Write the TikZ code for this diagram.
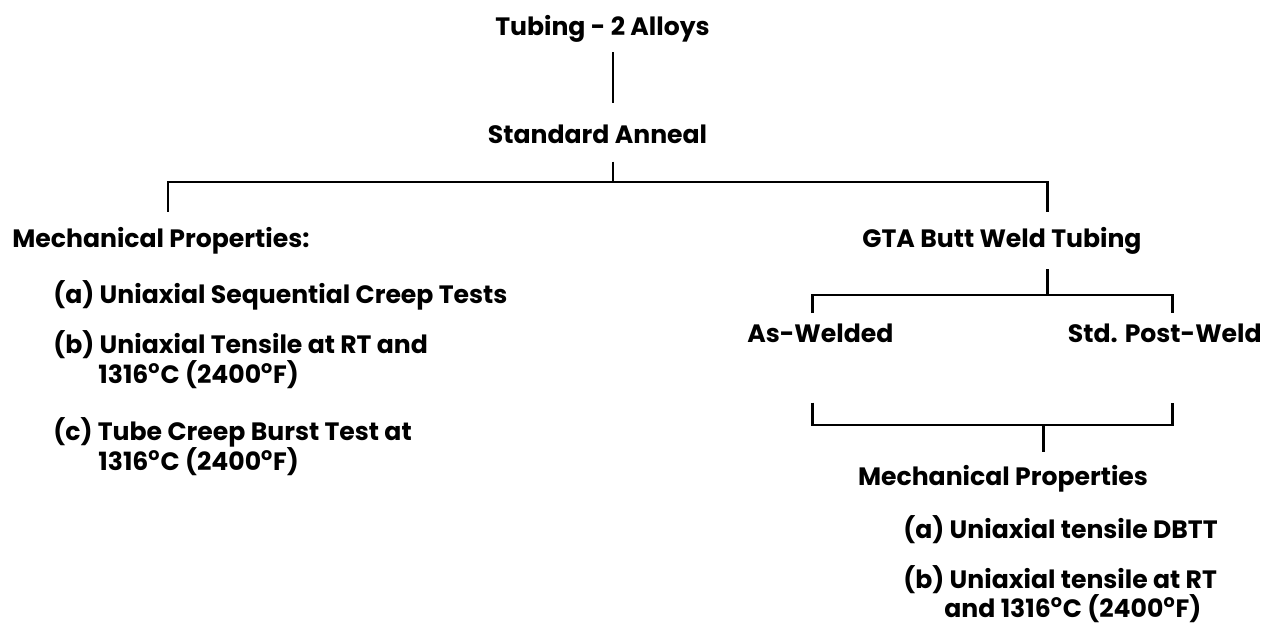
\documentclass[tikz,border=0pt]{standalone}
\usepackage{fontspec}
\setmainfont{Poppins}
\usetikzlibrary{positioning,calc}
\newcommand{\degr}{\textsuperscript{o}}

\begin{document}
\begin{tikzpicture}[
  txt/.style={font=\fontsize{14.3}{17}\selectfont\bfseries, inner sep=0pt, text=black},
  head/.style={txt, anchor=base},
  item/.style={txt, anchor=base west},
  itemr/.style={txt, anchor=base east},
  link/.style={line width=1.7pt, line join=miter, draw=black},
]
\useasboundingbox (0,0) rectangle (25.54,-12.70);

% ============ trunk ============
\node[head] (tube)   at (12.05,-0.70) {Tubing - 2 Alloys};
\node[head] (anneal) at (11.95,-2.86) {Standard Anneal};

\coordinate (spine)    at (12.26,0);
\coordinate (split)    at (12.26,-3.64);
\coordinate (leftend)  at (3.36,-3.64);
\coordinate (rightend) at (20.94,-3.64);

\draw[link, shorten <=0.2cm, shorten >=0.42cm] (tube.south -| spine) -- (anneal.north -| spine);
\draw[link, shorten <=0.36cm] (anneal.south -| spine) -- (split);

% ============ left branch ============
\node[item] (mechl) at (0.24,-4.94) {Mechanical Properties:};
\node[item] (itema) at (1.06,-6.06) {(a) Uniaxial Sequential Creep Tests};
\node[item] (itemb) at (1.06,-7.06) {(b) Uniaxial Tensile at RT and};
\node[item] (itemb2) at ([shift={(0.90,-0.60)}]itemb.base west) {1316\degr C (2400\degr F)};
\node[item] (itemc) at (1.06,-8.80) {(c) Tube Creep Burst Test at};
\node[item] (itemc2) at ([shift={(0.90,-0.60)}]itemc.base west) {1316\degr C (2400\degr F)};

% ============ right branch ============
\node[head] (gta) at (20.04,-4.94) {GTA Butt Weld Tubing};

\draw[link, shorten <=0.3cm, shorten >=0.3cm]
  (mechl.north -| leftend) -- (leftend) -- (rightend) -- (gta.north -| rightend);

\node[item]  (aswelded) at (14.94,-6.84) {As-Welded};
\node[itemr] (postweld) at (25.24,-6.84) {Std. Post-Weld};

\coordinate (b2m) at (20.94,-5.90);
\coordinate (b2l) at (16.24,-5.90);
\coordinate (b2r) at (23.45,-5.90);
\draw[link, shorten <=0.3cm] (gta.south -| b2m) -- (b2m);
\draw[link, shorten <=0.2cm, shorten >=0.2cm]
  (aswelded.north -| b2l) -- (b2l) -- (b2r) -- (postweld.north -| b2r);

\coordinate (b3m) at (20.86,-8.50);
\coordinate (b3l) at (16.24,-8.50);
\coordinate (b3r) at (23.45,-8.50);
\draw[link, shorten <=1.2cm, shorten >=1.2cm]
  (aswelded.south -| b3l) -- (b3l) -- (b3r) -- (postweld.south -| b3r);

\node[head] (mechr) at (20.06,-9.70) {Mechanical Properties};
\draw[link, shorten >=0.26cm] (b3m) -- (mechr.north -| b3m);

\node[item] (itemra) at (18.06,-10.76) {(a) Uniaxial tensile DBTT};
\node[item] (itemrb) at (18.06,-11.76) {(b) Uniaxial tensile at RT};
\node[item] (itemrb2) at ([shift={(0.82,-0.58)}]itemrb.base west) {and 1316\degr C (2400\degr F)};
\end{tikzpicture}
\end{document}
